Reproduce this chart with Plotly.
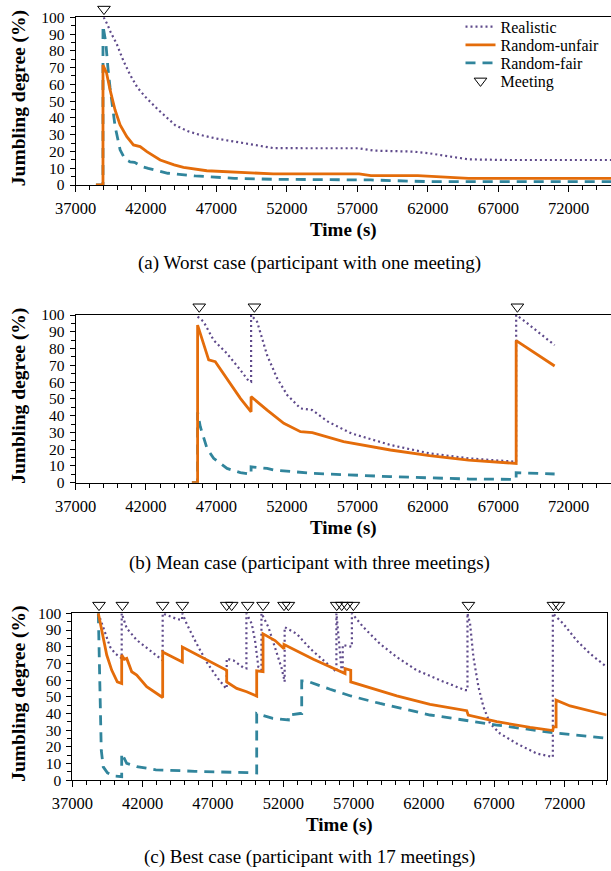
import plotly.graph_objects as go

# ---------------- DATA ----------------
# (a) Worst case
a_real_t = [39000, 39250, 39500, 39930, 40400, 40880, 41400, 41940, 42890, 43500, 44100, 45000, 45770, 47000, 48260, 49500, 51030, 53800, 57100, 58200, 61000, 62100, 63500, 64900, 67660, 75000]
a_real_y = [100, 96, 91, 84, 74, 65.6, 58, 52.7, 44.7, 40, 35.5, 32, 30, 27.7, 25.8, 24, 22, 21.9, 21.9, 20.5, 19.9, 18.9, 17, 15.3, 14.9, 14.9]
a_unf_t = [38450, 38950, 38950, 39200, 39453, 39809, 40165, 40641, 41111, 41587, 42064, 43010, 44000, 44661, 46317, 48260, 51030, 57127, 57959, 61290, 64000, 64893, 75000]
a_unf_y = [0, 0, 71.5, 67, 56.7, 44.7, 35.8, 28.8, 23.9, 22.9, 19.9, 14.9, 12, 10.5, 8.5, 7.6, 6.6, 6.6, 5.6, 5.6, 4.3, 4, 4]
a_fair_t = [38450, 38950, 38950, 39150, 39300, 39453, 39809, 40165, 40500, 40876, 41189, 41700, 42162, 43550, 45490, 48260, 51030, 57959, 62120, 75000]
a_fair_y = [0, 0, 95, 85, 70, 58, 35, 21, 15.5, 13.8, 13.5, 11, 9.9, 7, 5.4, 4, 3.4, 3, 2, 2]
a_meet = [39020]

# (b) Mean case
b_real_t = [45665, 46090, 46800, 47753, 48699, 49290, 49460, 49460, 49887, 50598, 51310, 52021, 52966, 53806, 54916, 56573, 59346, 62120, 64893, 68270, 68270, 68770, 71000]
b_real_y = [99, 96, 85, 77, 67.2, 60.6, 60.2, 100, 96, 76, 62.2, 52.3, 44.3, 43.3, 36.4, 29.4, 22.5, 17.5, 14.5, 12.5, 100, 97, 82]
b_unf_t = [45260, 45665, 45665, 46450, 46920, 47750, 48700, 49460, 49460, 50600, 51780, 52966, 53806, 56019, 59346, 62120, 64893, 68270, 68270, 71000]
b_unf_y = [0, 0, 94, 73.2, 72.2, 62.2, 50.3, 42.3, 51.3, 43.3, 35.4, 30.4, 29.8, 24.5, 19.5, 16.1, 13.5, 11.5, 84.7, 69.6]
b_fair_t = [45260, 45665, 45665, 45855, 46330, 46800, 47753, 48699, 49460, 49460, 50598, 51030, 53806, 59346, 64893, 68270, 68270, 71000]
b_fair_y = [0, 0, 42, 33.4, 20.5, 14.5, 8.5, 6, 5, 9.5, 8.5, 7.6, 5.6, 3.6, 2.2, 2, 6, 5.2]
b_meet = [45780, 49695, 68357]

# (c) Best case
c_real_t = [38850, 39330, 39680, 40040, 40480, 40513, 40513, 40870, 41580, 42530, 43237, 43427, 43427, 44000, 44423, 44800, 44826, 45134, 45845, 46556, 47268, 47930, 47979, 47979, 48452, 49163, 49380, 49380, 49760, 49995, 50230, 50450, 50450, 50946, 51420, 51894, 52100, 52100, 52965, 53918, 54864, 55780, 55780, 56157, 56230, 56230, 56850, 56880, 56880, 57696, 58882, 60068, 61490, 63149, 64926, 65100, 65100, 65285, 65522, 65878, 66233, 66707, 67418, 68604, 70027, 71093, 71170, 71170, 71918, 72867, 73816, 75000]
c_real_y = [100, 88, 80, 76, 73, 73, 100, 91, 84, 78, 73, 71.8, 100, 98, 96.6, 96, 100, 93.7, 81.7, 70.8, 61.9, 55, 55, 72.8, 71.8, 67.5, 67, 100, 93.7, 83.7, 67.9, 66, 100, 91.7, 78.8, 66.9, 59, 91.7, 87.7, 78.8, 71.8, 65, 100, 65, 65, 81, 80, 80, 100, 91.7, 81.7, 73.8, 65.9, 59.9, 54, 54, 100, 93.7, 73.8, 56, 44, 34, 28, 22, 16, 14, 14, 100, 93.7, 83.7, 75.8, 67.9]
c_unf_t = [38850, 39090, 39450, 39800, 40200, 40513, 40513, 40700, 40870, 41225, 41580, 42290, 43118, 43427, 43427, 44826, 44826, 46400, 47979, 47979, 48690, 49400, 50112, 50112, 50563, 50563, 51420, 52056, 52056, 54141, 56394, 56394, 56800, 56800, 60072, 62440, 65048, 65150, 67182, 69550, 71167, 71212, 71402, 71402, 72394, 75000]
c_unf_y = [100, 90, 75, 66, 59, 58, 75, 72.5, 73, 65, 63, 56, 51, 49.6, 76.8, 70.8, 79.8, 73, 65.9, 58.9, 55, 53, 50.4, 65.5, 65, 87.7, 83.7, 78.8, 81.3, 72.5, 63.9, 66.9, 65.9, 58.9, 50.5, 45.5, 41.7, 39.1, 35.1, 31.7, 29.8, 32, 32, 48, 44.5, 39.1]
c_fair_t = [38850, 38920, 38990, 39060, 39200, 39500, 40000, 40513, 40513, 40869, 41580, 42946, 45720, 48490, 50112, 50112, 51260, 52364, 52364, 53194, 53313, 53313, 53669, 55328, 56800, 58883, 62440, 67182, 71448, 75000]
c_fair_y = [100, 70, 40, 18, 8, 4.5, 2.5, 2.2, 16.2, 10.2, 8.2, 6.3, 5.4, 4.8, 4.4, 40, 37.1, 36.1, 39, 40, 40, 59.5, 59.5, 54.5, 50.5, 46, 39.1, 33.1, 28.2, 25.2]
c_meet = [38899, 40558, 43427, 44826, 47979, 48334, 49472, 50563, 52056, 52364, 55802, 56157, 56513, 56987, 65166, 71211, 71567]

x_ticks = [37000, 42000, 47000, 52000, 57000, 62000, 67000, 72000]
x_ticktext = ["37000", "42000", "47000", "52000", "57000", "62000", "67000", "72000"]
x_range = [37000, 75000]
captions = ["(a) Worst case (participant with one meeting)",
            "(b) Mean case (participant with three meetings)",
            "(c) Best case (participant with 17 meetings)"]
y_title = "Jumbling degree (%)"
x_title = "Time (s)"
legend_names = ["Realistic", "Random-unfair", "Random-fair", "Meeting"]

# ---------------- STYLE ----------------
W, H = 611, 871
SERIF = "Times New Roman"
C_REAL = "#5F4A8B"
C_UNF = "#E46C0A"
C_FAIR = "#31859C"
MEET_Y = 104.9
EXTRA = 16.0  # px of headroom for the meeting-marker axis
LEG_FONT = 16
LEG_X = 460.5
LEG_CY = [26.7, 45.0, 63.0, 81.0]  # centre of each legend entry (px from top)

panels = [
    dict(real=(a_real_t, a_real_y), unf=(a_unf_t, a_unf_y), fair=(a_fair_t, a_fair_y), meet=a_meet,
         xd=[75.5 / W, 1.0], top=17.3, bot=185.0, rmirror=False),
    dict(real=(b_real_t, b_real_y), unf=(b_unf_t, b_unf_y), fair=(b_fair_t, b_fair_y), meet=b_meet,
         xd=[75.5 / W, 1.0], top=315.0, bot=482.7, rmirror=False),
    dict(real=(c_real_t, c_real_y), unf=(c_unf_t, c_unf_y), fair=(c_fair_t, c_fair_y), meet=c_meet,
         xd=[72.3 / W, 606.7 / W], top=613.3, bot=780.3, rmirror=True),
]
caption_y = [263, 563, 857]

fig = go.Figure()
layout = dict(template="none", width=W, height=H,
              margin=dict(l=0, r=0, t=0, b=0, autoexpand=False),
              paper_bgcolor="white", plot_bgcolor="rgba(0,0,0,0)",
              font=dict(family=SERIF, size=16, color="black"),
              showlegend=True,
              annotations=[])

leg_ids = ["legend", "legend2", "legend3", "legend4"]
for j, lid in enumerate(leg_ids):
    layout[lid] = dict(x=LEG_X / W, y=1 - LEG_CY[j] / H, xanchor="left", yanchor="middle",
                       bgcolor="rgba(0,0,0,0)", borderwidth=0,
                       font=dict(family=SERIF, size=LEG_FONT, color="black"),
                       tracegroupgap=0, itemwidth=30)

for i, p in enumerate(panels):
    k = "" if i == 0 else str(i + 1)
    xa, ya = "x" + k, "y" + k
    ym = "y" + str(i + 4)
    first = i == 0
    fig.add_trace(go.Scatter(x=p["real"][0], y=p["real"][1], mode="lines", name=legend_names[0],
                             line=dict(color=C_REAL, width=2.2, dash="2px,3px"), legend="legend",
                             xaxis=xa, yaxis=ya, showlegend=first, hoverinfo="skip"))
    fig.add_trace(go.Scatter(x=p["fair"][0], y=p["fair"][1], mode="lines", name=legend_names[2],
                             line=dict(color=C_FAIR, width=2.8, dash="10px,7px"), legend="legend3",
                             xaxis=xa, yaxis=ya, showlegend=first, hoverinfo="skip"))
    fig.add_trace(go.Scatter(x=p["unf"][0], y=p["unf"][1], mode="lines", name=legend_names[1],
                             line=dict(color=C_UNF, width=2.8), legend="legend2",
                             xaxis=xa, yaxis=ya, showlegend=first, hoverinfo="skip"))
    fig.add_trace(go.Scatter(x=p["meet"], y=[MEET_Y] * len(p["meet"]), mode="markers", name=legend_names[3],
                             marker=dict(symbol="triangle-down-open", size=11, color="black",
                                         line=dict(color="black", width=1)),
                             cliponaxis=False, legend="legend4",
                             xaxis=xa, yaxis=ym, showlegend=first, hoverinfo="skip"))

    h = p["bot"] - p["top"]
    yd = [1 - p["bot"] / H, 1 - p["top"] / H]
    ydm = [1 - p["bot"] / H, 1 - (p["top"] - EXTRA) / H]
    layout["xaxis" + k] = dict(domain=p["xd"], anchor=ya, range=x_range, tickvals=x_ticks, ticktext=x_ticktext,
                               ticks="outside", ticklen=6, tickcolor="black", tickwidth=1,
                               showline=True, linecolor="black", linewidth=1, mirror=True,
                               showgrid=False, zeroline=False, automargin=False, ticklabelstandoff=2,
                               tickfont=dict(family=SERIF, size=16.5, color="black"),
                               minor=dict(dtick=1000, tick0=37000, ticks="outside", ticklen=4,
                                          tickcolor="black", showgrid=False))
    layout["yaxis" + k] = dict(domain=yd, anchor=xa, range=[0, 100], dtick=10, tick0=0,
                               ticks="outside", ticklen=5, tickcolor="black", tickwidth=1,
                               showline=True, linecolor="black", linewidth=1,
                               mirror=p["rmirror"], automargin=False,
                               showgrid=False, zeroline=False, ticklabelstandoff=2,
                               tickfont=dict(family=SERIF, size=15.5, color="black"),
                               minor=dict(dtick=5, ticks="outside", ticklen=4, tickcolor="black",
                                          showgrid=False))
    layout["yaxis" + str(i + 4)] = dict(domain=ydm, anchor=xa, range=[0, 100 * (h + EXTRA) / h],
                                        visible=False, showgrid=False, zeroline=False, automargin=False)

    xc = (p["xd"][0] + p["xd"][1]) / 2
    layout["annotations"].append(dict(text="<b>" + x_title + "</b>", xref="paper", yref="paper",
                                      x=xc, y=1 - (p["bot"] + 45) / H, showarrow=False,
                                      xanchor="center", yanchor="middle",
                                      font=dict(family=SERIF, size=19, color="black")))
    layout["annotations"].append(dict(text="<b>" + y_title + "</b>", xref="paper", yref="paper",
                                      x=19 / W, y=1 - ((p["top"] + p["bot"]) / 2 - 3) / H,
                                      showarrow=False, textangle=-90,
                                      xanchor="center", yanchor="middle",
                                      font=dict(family=SERIF, size=19.5, color="black")))
    layout["annotations"].append(dict(text=captions[i], xref="paper", yref="paper",
                                      x=309 / W, y=1 - caption_y[i] / H, showarrow=False,
                                      xanchor="center", yanchor="middle",
                                      font=dict(family=SERIF, size=19, color="black")))

fig.update_layout(**layout)
fig.write_html("out.html", config={"displayModeBar": False},
               post_script="document.body.style.margin='0';document.body.style.overflow='hidden';")
